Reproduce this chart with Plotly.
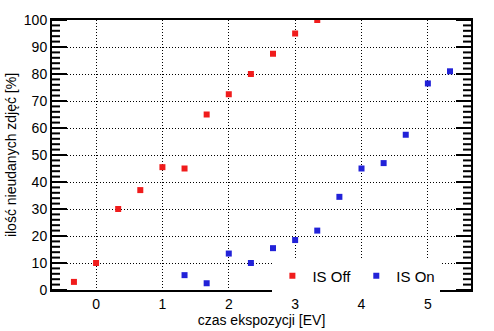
import plotly.graph_objects as go

# exposure time [EV] and share of failed shots [%]
ev_off = [-1/3, 0, 1/3, 2/3, 1, 4/3, 5/3, 2, 7/3, 8/3, 3, 10/3]
fail_off = [3, 10, 30, 37, 45.5, 45, 65, 72.5, 80, 87.5, 95, 100]

ev_on = [4/3, 5/3, 2, 7/3, 8/3, 3, 10/3, 11/3, 4, 13/3, 14/3, 5, 16/3]
fail_on = [5.5, 2.5, 13.5, 10, 15.5, 18.5, 22, 34.5, 45, 47, 57.5, 76.5, 81]

x_ticks = [0, 1, 2, 3, 4, 5]
y_ticks = [0, 10, 20, 30, 40, 50, 60, 70, 80, 90, 100]
y_minor_ticks = list(range(0, 101, 2))

RED = "#f01c1c"
BLUE = "#2222d8"
FONT = "Liberation Sans, Arial, sans-serif"
DOTS = "1px,2px"

W, H = 494, 331
M = dict(l=52, r=23, t=20, b=41)
plot_w = W - M["l"] - M["r"]

fig = go.Figure()
fig.add_trace(go.Scatter(
    x=ev_off, y=fail_off, mode="markers", name="IS Off",
    marker=dict(symbol="square", size=6, color=RED, line=dict(width=0)),
))
fig.add_trace(go.Scatter(
    x=ev_on, y=fail_on, mode="markers", name="IS On",
    marker=dict(symbol="square", size=6, color=BLUE, line=dict(width=0)),
))

# inward tick marks on both vertical frame edges (long at labelled values)
for v in y_minor_ticks:
    frac = (15 if v in y_ticks else 8) / plot_w
    for x_edge, x_end in ((0, frac), (1, 1 - frac)):
        fig.add_shape(
            type="line", xref="paper", yref="y",
            x0=x_edge, x1=x_end, y0=v, y1=v,
            line=dict(color="black", width=2), layer="above",
        )

fig.update_layout(
    template="none",
    width=W, height=H,
    margin=dict(**M, autoexpand=False),
    paper_bgcolor="white", plot_bgcolor="white",
    font=dict(family=FONT, size=14, color="black"),
    showlegend=True,
    legend=dict(
        orientation="h", x=0.526, xanchor="left", y=0.052, yanchor="middle",
        bgcolor="white", borderwidth=0, font=dict(size=15, family=FONT),
        itemsizing="trace", itemwidth=30,
    ),
)

fig.update_xaxes(
    range=[-0.664, 5.65], tickmode="array", tickvals=x_ticks,
    ticktext=[str(v) for v in x_ticks],
    showgrid=True, gridcolor="black", griddash=DOTS, gridwidth=1,
    showline=True, linecolor="black", linewidth=2, mirror=True,
    ticks="", zeroline=False, automargin=False,
    title=dict(text="czas ekspozycji [EV]", font=dict(size=14), standoff=4),
    tickfont=dict(size=14),
)
fig.update_yaxes(
    range=[0, 100], tickmode="array", tickvals=y_ticks,
    ticktext=[str(v) for v in y_ticks],
    showgrid=True, gridcolor="black", griddash=DOTS, gridwidth=1,
    showline=True, linecolor="black", linewidth=2, mirror=True,
    ticks="", zeroline=False, automargin=False,
    title=dict(text="ilość nieudanych zdjęć [%]", font=dict(size=14), standoff=4),
    tickfont=dict(size=14),
)

fig.write_html("out.html")
